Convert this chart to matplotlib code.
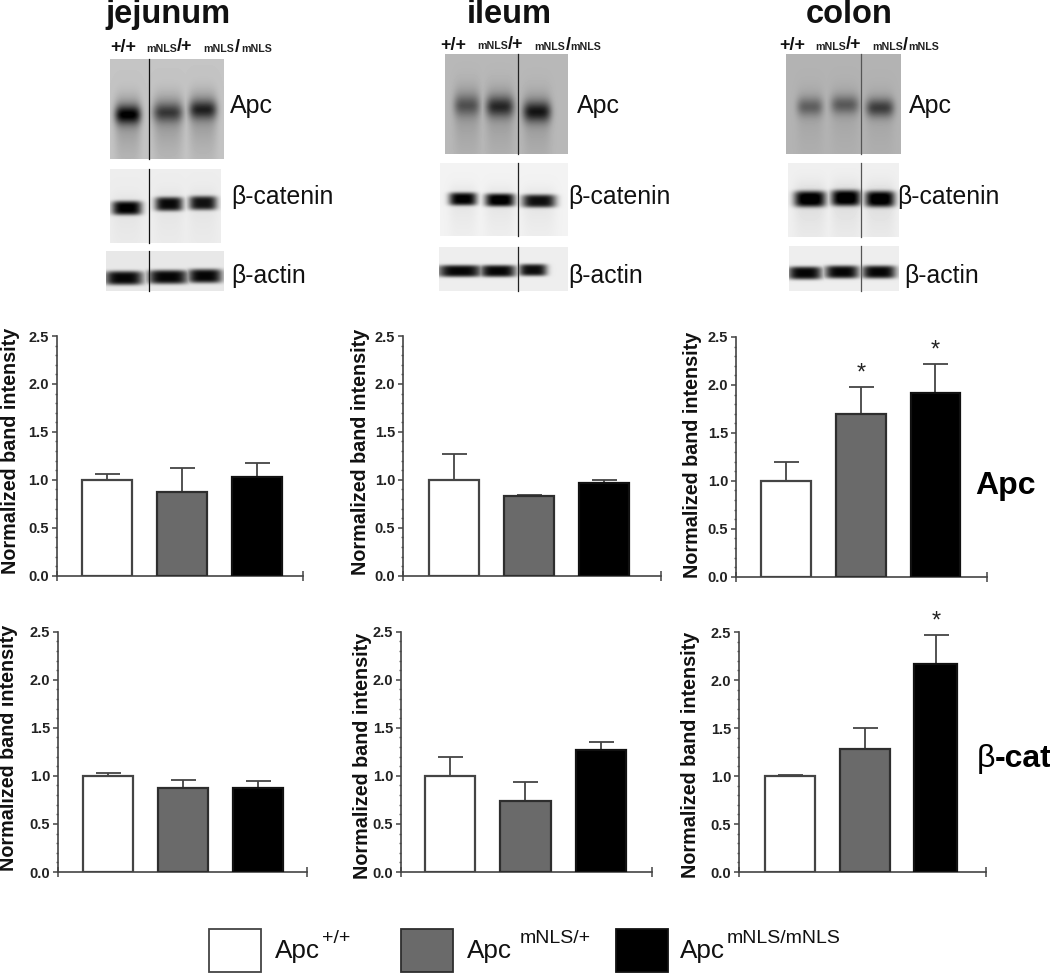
import matplotlib
matplotlib.use("Agg")
import matplotlib.pyplot as plt
import numpy as np
from matplotlib.patches import Rectangle
from matplotlib.ticker import MultipleLocator

plt.rcParams['font.family'] = ['Liberation Sans', 'DejaVu Sans']

W, H = 1050, 973

# --- bar chart values ---
jejunum_apc = [1.00, 0.87, 1.03]
jejunum_apc_err = [0.06, 0.25, 0.15]
ileum_apc = [1.00, 0.83, 0.97]
ileum_apc_err = [0.27, 0.015, 0.03]
colon_apc = [1.00, 1.70, 1.92]
colon_apc_err = [0.20, 0.28, 0.30]
jejunum_cat = [1.00, 0.87, 0.87]
jejunum_cat_err = [0.03, 0.085, 0.08]
ileum_cat = [1.00, 0.74, 1.27]
ileum_cat_err = [0.20, 0.20, 0.08]
colon_cat = [1.00, 1.28, 2.17]
colon_cat_err = [0.01, 0.22, 0.30]

colon_apc_sig = [False, True, True]
colon_cat_sig = [False, False, True]
no_sig = [False, False, False]

group_pos = [1, 2, 3]
colon_cat_pos = [1, 2, 2.95]
bar_widths = [0.667, 0.667, 0.667]
colon_cat_widths = [0.667, 0.667, 0.573]
bar_colors = ['white', '#6a6a6a', 'black']
bar_edges = ['#444444', '#2e2e2e', '#111111']
y_ticks = [0.0, 0.5, 1.0, 1.5, 2.0, 2.5]

# --- blot lanes: (x centre, y centre, half width, darkness) in picture pixels ---
jej_apc_lanes = [(128, 115, 13, 0.70), (168, 113, 15, 0.38), (203, 110, 14, 0.50)]
jej_cat_lanes = [(127, 208, 15, 0.97), (169, 204, 14, 0.92), (203, 203, 14, 0.88)]
jej_act_lanes = [(124, 278, 19, 0.98), (168, 277, 20, 0.98), (205, 276, 17, 0.98)]
ile_apc_lanes = [(467, 106, 13, 0.32), (500, 107, 14, 0.55), (537, 112, 14, 0.65)]
ile_cat_lanes = [(463, 199, 14, 0.95), (500, 200, 15, 0.98), (539, 201, 17, 0.88)]
ile_act_lanes = [(460, 271, 22, 0.98), (498, 271, 18, 0.98), (533, 270, 14, 0.95)]
col_apc_lanes = [(810, 107, 13, 0.35), (845, 105, 14, 0.38), (880, 108, 14, 0.55)]
col_cat_lanes = [(810, 199, 16, 0.98), (846, 198, 15, 0.98), (880, 199, 15, 0.98)]
col_act_lanes = [(805, 273, 17, 0.98), (842, 272, 17, 0.98), (879, 272, 17, 0.98)]

# (left, right, top, bottom, background, band half height, band sharpness, smear, lanes, divider, divider colour)
blots = [
    (110, 224, 59, 159, 0.77, 9, 2, 0.35, jej_apc_lanes, 148.5, '#111111'),
    (110, 221, 169, 243, 0.93, 7, 4, 0.05, jej_cat_lanes, 148.5, '#111111'),
    (106, 224, 251, 291, 0.91, 7, 4, 0.0, jej_act_lanes, 148.5, '#111111'),
    (445, 568, 54, 154, 0.72, 10, 2, 0.25, ile_apc_lanes, 517.7, '#222222'),
    (440, 568, 163, 236, 0.95, 6.5, 4, 0.07, ile_cat_lanes, 517.7, '#222222'),
    (439, 568, 247, 291, 0.93, 6, 4, 0.0, ile_act_lanes, 517.7, '#222222'),
    (786, 901, 54, 154, 0.70, 9, 2, 0.12, col_apc_lanes, 860.7, '#555555'),
    (788, 899, 163, 237, 0.94, 8, 4, 0.10, col_cat_lanes, 860.7, '#555555'),
    (789, 899, 246, 291, 0.93, 6.5, 4, 0.0, col_act_lanes, 860.7, '#555555'),
]


def draw_blot(ax, left, right, top, bottom, bg, band_h, sharp, smear, lanes, divider, div_color):
    """Paint one blot strip as a greyscale image, with soft bands on a flat background"""
    xs, ys = np.meshgrid(np.arange(left, right) + 0.5, np.arange(top, bottom) + 0.5)
    dark = np.zeros(xs.shape)
    for cx, cy, hw, d in lanes:
        across = np.exp(-((xs - cx) / hw) ** 4)
        band = np.exp(-((ys - cy) / band_h) ** sharp)
        tail = np.where(ys > cy, np.exp(-(ys - cy) / 30.0), np.exp(-((ys - cy) / (2 * band_h)) ** 2))
        dark = np.maximum(dark, across * (d * band + smear * tail))
    dark = np.clip(dark, 0, 1)
    img = bg * (1 - dark)
    ax.imshow(img, cmap='gray', vmin=0, vmax=1, extent=(left, right, bottom, top),
              aspect='auto', interpolation='bilinear', zorder=1)
    ax.plot([divider, divider], [top, bottom], color=div_color, lw=0.9, zorder=2)


def draw_bars(rect, xlim, values, errs, sig, label_xy, positions=group_pos, widths=bar_widths):
    x0, x1, y0, ytop = rect
    ax = fig.add_axes([x0 / W, 1 - y0 / H, (x1 - x0) / W, (y0 - ytop) / H])
    ax.patch.set_visible(False)
    ax.bar(positions, values, width=widths, color=bar_colors, edgecolor=bar_edges, linewidth=1.6, zorder=3)
    # only the upper half of each error bar is shown
    ax.errorbar(positions, values, yerr=[[0, 0, 0], errs], fmt='none', ecolor='#444444',
                elinewidth=1.3, capsize=9, capthick=1.3, zorder=2)
    for x, v, e, s in zip(positions, values, errs, sig):
        if s:
            ax.annotate('*', (x, v + e), xytext=(0, 5), textcoords='offset points', ha='center',
                        va='baseline', fontsize=17, color='#222222')
    ax.set_xlim(xlim)
    ax.set_ylim(0, 2.5)
    ax.set_xticks(xlim)
    ax.set_xticklabels([])
    ax.set_yticks(y_ticks)
    ax.set_yticklabels([f'{t:.1f}' for t in y_ticks], fontweight='bold', fontsize=10.5, color='#222222')
    ax.yaxis.set_minor_locator(MultipleLocator(0.1))
    ax.tick_params(axis='y', which='major', length=3.5, width=1.1, pad=2, color='#444444')
    ax.tick_params(axis='y', which='minor', length=1.8, width=1.0, color='#666666')
    ax.tick_params(axis='x', which='major', length=7, width=1.1, direction='inout', color='#444444')
    for side in ['top', 'right']:
        ax.spines[side].set_visible(False)
    for side in ['left', 'bottom']:
        ax.spines[side].set_color('#444444')
        ax.spines[side].set_linewidth(1.2)
    page.text(label_xy[0], label_xy[1], 'Normalized band intensity', rotation=90, ha='center', va='center',
              fontweight='bold', fontsize=14.2, color='#111111')
    return ax


fig = plt.figure(figsize=(W / 100, H / 100), dpi=100, facecolor='white')

# full-figure axes in picture pixels, for the blots and all loose text
page = fig.add_axes([0, 0, 1, 1])
page.axis('off')

for b in blots:
    draw_blot(page, *b)
page.set_xlim(0, W)
page.set_ylim(H, 0)

# Panel titles
for name, cx in [('jejunum', 168), ('ileum', 509), ('colon', 849)]:
    page.text(cx, 23, name, ha='center', va='baseline', fontweight='bold', fontsize=23.5, color='#111111')

# Genotypes above the blots, mixed sizes
big = [('+/+', 110, 52), ('/+', 177, 51), ('/', 235, 52),
       ('+/+', 440, 50), ('/+', 508, 49), ('/', 566, 50),
       ('+/+', 779, 50), ('/+', 846, 49), ('/', 903, 50)]
small = [(146, 52), (203, 52), (241, 52),
         (477, 49), (534, 50), (570, 50),
         (815, 50), (872, 50), (908, 50)]
for txt, x, y in big:
    page.text(x, y, txt, ha='left', va='baseline', fontweight='bold', fontsize=13, color='#111111')
for x, y in small:
    page.text(x, y, 'mNLS', ha='left', va='baseline', fontweight='bold', fontsize=7.7, color='#222222')

# Blot names
blot_labels = [('Apc', 230, 113), ('β-catenin', 231, 204), ('β-actin', 231, 283),
               ('Apc', 577, 113), ('β-catenin', 568, 204), ('β-actin', 568, 283),
               ('Apc', 909, 113), ('β-catenin', 897, 204), ('β-actin', 904, 283)]
for txt, x, y in blot_labels:
    page.text(x, y, txt, ha='left', va='baseline', fontsize=18 if txt == 'Apc' else 17.8, color='#111111')

# Bar panels
draw_bars((56.5, 303, 575.7, 336), (0.33, 3.62), jejunum_apc, jejunum_apc_err, no_sig, (11, 451))
draw_bars((403, 661, 575.7, 336), (0.32, 3.76), ileum_apc, ileum_apc_err, no_sig, (361, 452))
draw_bars((736, 987, 576.7, 337), (0.33, 3.69), colon_apc, colon_apc_err, colon_apc_sig, (692, 455))
draw_bars((58, 306.7, 872, 631.7), (0.33, 3.65), jejunum_cat, jejunum_cat_err, no_sig, (9, 748))
draw_bars((400.7, 651.7, 872, 631.7), (0.34, 3.68), ileum_cat, ileum_cat_err, no_sig, (362, 756))
draw_bars((739, 986, 872, 632), (0.32, 3.62), colon_cat, colon_cat_err, colon_cat_sig, (691, 755),
          positions=colon_cat_pos, widths=colon_cat_widths)

# Row labels on the right
page.text(975, 494, 'Apc', ha='left', va='baseline', fontweight='bold', fontsize=23, color='black')
page.text(977, 767, 'β', ha='left', va='baseline', fontsize=23, color='black')
page.text(995, 767, '-cat', ha='left', va='baseline', fontweight='bold', fontsize=23, color='black')

# Legend at the bottom
legend_names = ['+/+', 'mNLS/+', 'mNLS/mNLS']
legend_box_x = [209, 401, 616]
legend_apc_x = [275, 467, 680]
legend_sup_x = [322, 520, 727]
for name, bx, ax_, sx, fc, ec in zip(legend_names, legend_box_x, legend_apc_x, legend_sup_x, bar_colors, bar_edges):
    page.add_patch(Rectangle((bx, 929), 52, 43, facecolor=fc, edgecolor=ec, linewidth=1.3, zorder=2))
    page.text(ax_, 958, 'Apc', ha='left', va='baseline', fontsize=18.8, color='#111111')
    page.text(sx, 943, name, ha='left', va='baseline', fontsize=14, color='#111111')

fig.savefig('out.png', dpi=100, facecolor='white')
